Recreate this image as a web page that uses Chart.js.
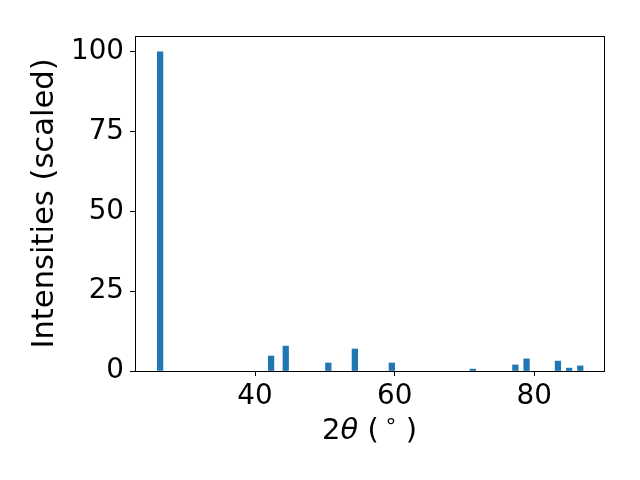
<!DOCTYPE html>
<html>
<head>
<meta charset="utf-8">
<script src="https://cdn.jsdelivr.net/npm/chart.js@4.4.1/dist/chart.umd.min.js"></script>
<style>
    html, body { margin: 0; padding: 0; background: white; }
    #wrap { width: 640px; height: 480px; }
</style>
</head>
<body>
<div id="wrap"><canvas id="xrd"></canvas></div>
<script>
// peak positions (2theta, degrees) and scaled intensities
const twoTheta = [26.4, 42.3, 44.4, 50.5, 54.3, 59.6, 71.2, 77.3, 78.9, 83.4, 85.0, 86.6];
const intensities = [100, 4.7, 7.8, 2.5, 6.9, 2.5, 0.6, 1.9, 3.8, 3.1, 0.9, 1.6];
const xTicks = [40, 60, 80];
const yTicks = [0, 25, 50, 75, 100];

const FONT = "DejaVu Sans";
const TICK_FS = 27.8;
const LABEL_FS = 30.6;

// box around the plot + x label with italic theta
const frame = {
    id: "frame",
    afterDraw(chart) {
        const a = chart.chartArea, ctx = chart.ctx;
        ctx.save();
        ctx.strokeStyle = "black";
        ctx.lineWidth = 1;
        ctx.strokeRect(a.left + 0.5, a.top + 0.5, a.right - a.left, a.bottom - a.top);

        const fs = 29;
        // text, style, size factor, raise
        const parts = [
            ["2", "normal", 1, 0],
            ["θ", "italic", 1, 0],
            [" (", "normal", 1, 0],
            [" °", "normal", 0.75, -3],
            [" )", "normal", 1, 0]
        ];
        ctx.fillStyle = "black";
        ctx.textBaseline = "middle";
        ctx.textAlign = "left";
        let total = 0;
        parts.forEach(p => {
            ctx.font = `${p[1]} ${fs * p[2]}px "${FONT}"`;
            total += ctx.measureText(p[0]).width;
        });
        let x = (a.left + a.right) / 2 - total / 2;
        const y = 431;
        parts.forEach(p => {
            ctx.font = `${p[1]} ${fs * p[2]}px "${FONT}"`;
            ctx.fillText(p[0], x, y + p[3]);
            x += ctx.measureText(p[0]).width;
        });
        ctx.restore();
    }
};

new Chart("xrd", {
    type: "bar",
    data: {
        datasets: [{
            backgroundColor: "#1f77b4",
            barThickness: 5.6,
            data: twoTheta.map((t, i) => ({x: t, y: intensities[i]}))
        }]
    },
    options: {
        responsive: true,
        maintainAspectRatio: false,
        animation: false,
        layout: {
            padding: {left: 23, right: 36, top: 36, bottom: 29}
        },
        plugins: {
            legend: {display: false},
            tooltip: {enabled: false}
        },
        scales: {
            x: {
                type: "linear",
                offset: false,
                min: 22.8,
                max: 90,
                afterBuildTicks: (scale) => { scale.ticks = xTicks.map(v => ({value: v})); },
                afterFit: (scale) => { scale.height = 80; },
                grid: {
                    offset: false,
                    drawOnChartArea: false,
                    tickLength: 5,
                    color: "black"
                },
                border: {color: "black"},
                ticks: {
                    color: "black",
                    padding: 4,
                    maxRotation: 0,
                    autoSkip: false,
                    font: {family: FONT, size: TICK_FS}
                }
            },
            y: {
                min: 0,
                max: 105,
                afterBuildTicks: (scale) => { scale.ticks = yTicks.map(v => ({value: v})); },
                afterFit: (scale) => { scale.width = 112; },
                grid: {
                    drawOnChartArea: false,
                    tickLength: 5,
                    color: "black"
                },
                border: {color: "black"},
                ticks: {
                    color: "black",
                    padding: 6,
                    font: {family: FONT, size: TICK_FS}
                },
                title: {
                    display: true,
                    text: "Intensities (scaled)",
                    color: "black",
                    font: {family: FONT, size: LABEL_FS}
                }
            }
        }
    },
    plugins: [frame]
});
</script>
</body>
</html>
